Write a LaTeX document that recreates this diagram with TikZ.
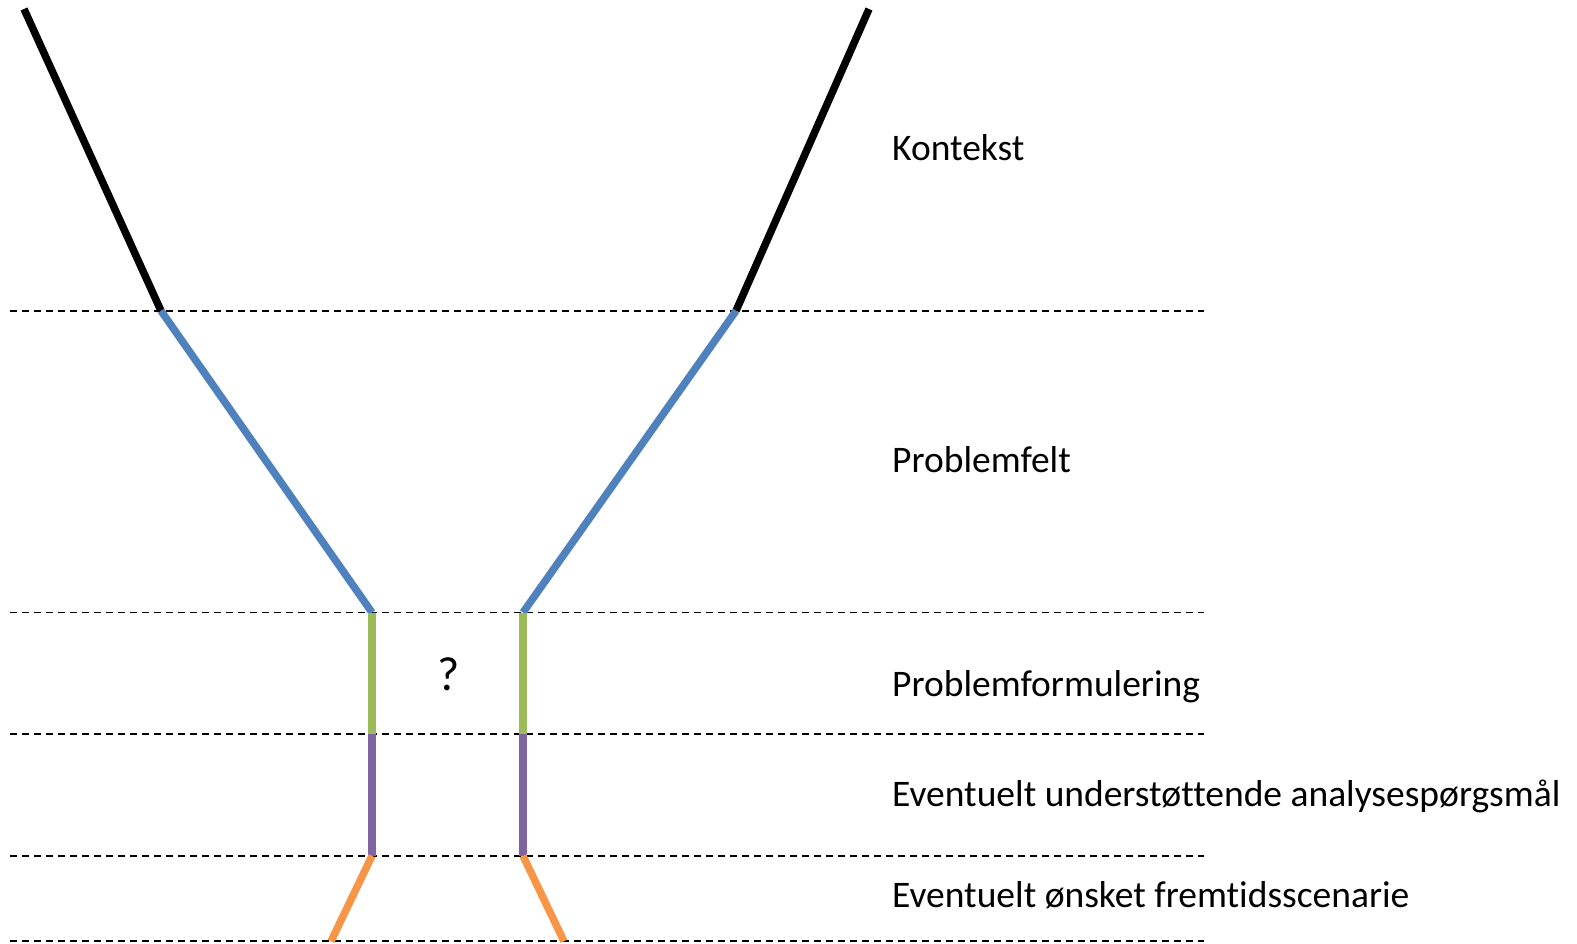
\documentclass[tikz,border=0pt]{standalone}
\usepackage{fontspec}
\setmainfont{Carlito}[Ligatures=NoCommon]
\definecolor{cblue}{HTML}{4F81BD}
\definecolor{cgreen}{HTML}{9BBB59}
\definecolor{cpurple}{HTML}{8064A2}
\definecolor{corange}{HTML}{F79646}
\begin{document}
\begin{tikzpicture}[x=1pt,y=-1pt,
  seg/.style={line width=7.5pt,line cap=butt},
  sep/.style={line width=1.7pt,dash pattern=on 7pt off 5pt},
  lbl/.style={anchor=base west,inner sep=0pt,font=\fontsize{37.5}{42}\selectfont}]
\useasboundingbox (0,0) rectangle (1577,943);
% separator ends
\foreach \n/\y in {a/310.8,b/612.5,c/734.2,d/855.8,e/941.3}{
  \coordinate (L\n) at (10,\y);
  \coordinate (R\n) at (1204,\y);
}
\foreach \n in {a,b,c,d,e}{\draw[sep] (L\n) -- (R\n);}
% funnel points
\coordinate (lt) at (24,9);
\coordinate (rt) at (869,9);
\coordinate (la) at (161,310.8);
\coordinate (ra) at (736,310.8);
\coordinate (lb) at (372,612.5);
\coordinate (rb) at (523,612.5);
\coordinate (lc) at (372,734.2);
\coordinate (rc) at (523,734.2);
\coordinate (ld) at (372,855.8);
\coordinate (rd) at (523,855.8);
\coordinate (le) at (331,941.3);
\coordinate (re) at (564,941.3);
\draw[seg,black] (lt) -- (la);
\draw[seg,black] (rt) -- (ra);
\draw[seg,cblue] (la) -- (lb);
\draw[seg,cblue] (ra) -- (rb);
\draw[seg,cgreen] (lb) -- (lc);
\draw[seg,cgreen] (rb) -- (rc);
\draw[seg,cpurple] (lc) -- (ld);
\draw[seg,cpurple] (rc) -- (rd);
\draw[seg,corange] (ld) -- (le);
\draw[seg,corange] (rd) -- (re);
% labels
\node[lbl] (t1) at (892,160) {Kontekst};
\node[lbl] (t2) at (892,472) {Problemfelt};
\node[lbl] (t3) at (892,696) {Problemformulering};
\node[lbl] (t4) at (892,806) {Eventuelt understøttende analysespørgsmål};
\node[lbl] (t5) at (892,907) {Eventuelt ønsket fremtidsscenarie};
\node[inner sep=0pt,font=\fontsize{48}{52}\selectfont] (q) at (449,674) {?};
\end{tikzpicture}
\end{document}
